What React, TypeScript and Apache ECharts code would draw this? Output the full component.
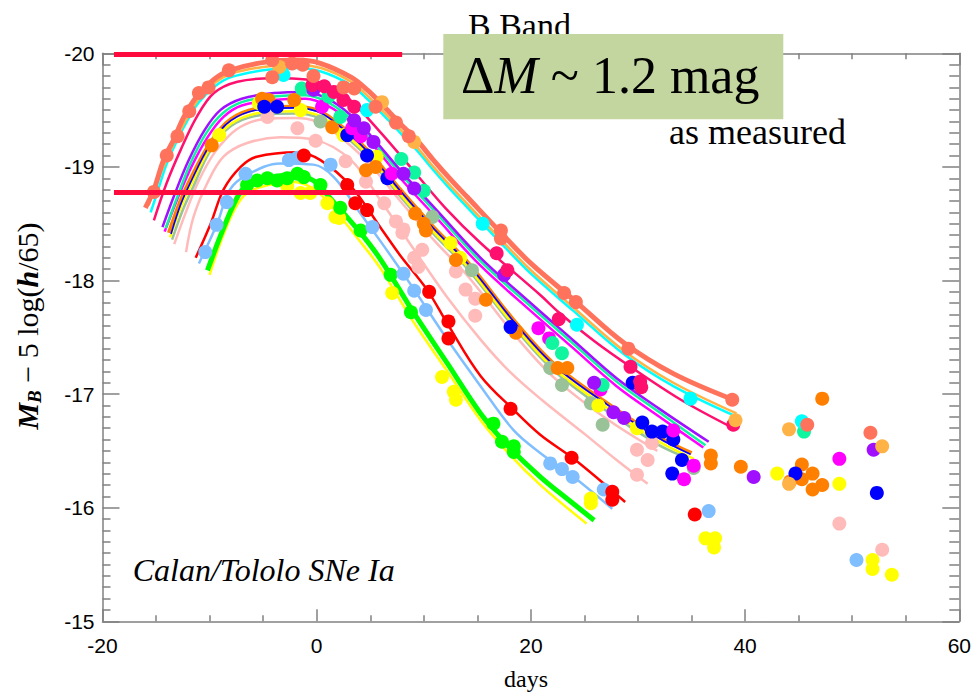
import React, { useEffect, useRef } from "react";
import * as echarts from "echarts";

// ---------- axis ----------
const X_MIN = -20;
const X_MAX = 60;
const X_STEP = 20;
const Y_MIN = -20;
const Y_MAX = -15;
const Y_STEP = 1;

// ---------- reference bars (days, mag) ----------
const barDays = [-18.93, 7.98];
const barBright = -19.99;
const barFaint = -18.775;

// ---------- template fits [day, mag] ----------
const fitCoral = [[-16,-18.64],[-15.2,-18.8],[-14.3,-19.06],[-13.3,-19.25],[-12.4,-19.44],[-11.2,-19.62],[-9.6,-19.77],[-8.1,-19.85],[-4.9,-19.92],[-1.8,-19.94],[0.4,-19.91],[3.2,-19.79],[4.7,-19.68],[6.3,-19.53],[7.8,-19.38],[9.4,-19.23],[10.9,-19.06],[12.5,-18.89],[14.1,-18.73],[17.2,-18.42],[20,-18.15],[24,-17.83],[28.7,-17.45],[33.3,-17.18],[38.9,-16.95]];
const fitLtOrange = [[-15.7,-18.66],[-15,-18.84],[-14,-19.07],[-13,-19.27],[-12,-19.45],[-11,-19.6],[-9.5,-19.74],[-8,-19.82],[-5,-19.88],[-2,-19.9],[0.4,-19.87],[3.2,-19.75],[4.7,-19.63],[6.3,-19.48],[7.8,-19.33],[9.4,-19.17],[10.9,-19.0],[12.5,-18.83],[14.1,-18.67],[17.2,-18.36],[20,-18.09],[24,-17.76],[28.7,-17.38],[33.3,-17.1],[39.2,-16.83]];
const fitCyan = [[-15.5,-18.6],[-14.8,-18.8],[-14,-19.03],[-13,-19.24],[-12,-19.42],[-11,-19.57],[-9.5,-19.71],[-8,-19.79],[-5,-19.85],[-2,-19.87],[0.4,-19.84],[3.2,-19.72],[4.7,-19.6],[6.3,-19.45],[7.8,-19.3],[9.4,-19.14],[10.9,-18.97],[12.5,-18.8],[14.1,-18.64],[17.2,-18.33],[20,-18.06],[24,-17.73],[28.7,-17.35],[33.3,-17.07],[39,-16.81]];
const fitDeepPink = [[-15.2,-18.53],[-14,-18.86],[-12.7,-19.15],[-11.2,-19.44],[-9.6,-19.65],[-7.4,-19.75],[-4,-19.78],[-1,-19.77],[1,-19.72],[3,-19.6],[6,-19.3],[9,-18.97],[12,-18.64],[15.3,-18.33],[20.9,-17.87],[22.6,-17.72],[26,-17.46],[29.3,-17.24],[34,-16.95],[38.9,-16.7]];
const fitPurple = [[-14.4,-18.47],[-13.3,-18.75],[-12,-19.05],[-10.5,-19.32],[-9,-19.5],[-7,-19.6],[-4,-19.65],[-1,-19.66],[1,-19.6],[3,-19.47],[5,-19.28],[8,-18.95],[11.2,-18.62],[15.3,-18.2],[20,-17.8],[24,-17.47],[28,-17.14],[32,-16.87],[36.6,-16.58]];
const fitSpring = [[-14.1,-18.46],[-13,-18.74],[-11.8,-19.03],[-10.3,-19.3],[-8.8,-19.47],[-7,-19.57],[-4,-19.62],[-1,-19.63],[1,-19.57],[3,-19.44],[5,-19.25],[8,-18.92],[11.2,-18.59],[15.3,-18.17],[20,-17.77],[24,-17.44],[28,-17.11],[32,-16.84],[36.3,-16.55]];
const fitMagenta = [[-14.2,-18.43],[-13,-18.72],[-11.7,-19.0],[-10.2,-19.26],[-8.7,-19.44],[-7,-19.54],[-4,-19.59],[-1,-19.6],[1,-19.54],[3,-19.41],[5,-19.22],[8,-18.88],[11.2,-18.55],[15.3,-18.13],[20,-17.73],[24,-17.4],[28,-17.07],[32,-16.8],[36.1,-16.53]];
const fitOrange = [[-13.8,-18.42],[-12.8,-18.68],[-12,-18.85],[-10,-19.2],[-8,-19.42],[-5,-19.52],[-2,-19.53],[0,-19.5],[1.6,-19.41],[4.7,-19.15],[7.8,-18.8],[10.9,-18.47],[14.1,-18.16],[18.4,-17.65],[22.1,-17.27],[27.1,-16.92],[31.8,-16.63],[35,-16.48]];
const fitBlue = [[-13.6,-18.41],[-12.7,-18.67],[-11.9,-18.84],[-10,-19.19],[-8,-19.41],[-5,-19.51],[-2,-19.52],[0,-19.49],[1.6,-19.4],[4.7,-19.14],[7.8,-18.79],[10.9,-18.46],[14.1,-18.15],[18.4,-17.64],[22.1,-17.26],[27.1,-16.91],[31.8,-16.62],[34.9,-16.47]];
const fitYellowHi = [[-13.7,-18.38],[-12.7,-18.64],[-11.9,-18.81],[-10,-19.16],[-8,-19.38],[-5,-19.48],[-2,-19.49],[0,-19.46],[1.6,-19.37],[4.7,-19.11],[7.8,-18.76],[10.9,-18.43],[14.1,-18.12],[18.4,-17.61],[22.1,-17.23],[27.1,-16.88],[31.8,-16.59],[35.2,-16.43]];
const fitSage = [[-13.5,-18.36],[-12.5,-18.62],[-11.5,-18.83],[-10,-19.13],[-8,-19.36],[-5,-19.46],[-2,-19.47],[0,-19.44],[1.6,-19.35],[4.7,-19.09],[7.8,-18.74],[10.9,-18.41],[14.1,-18.1],[18.4,-17.59],[22.1,-17.21],[27.1,-16.85],[31.8,-16.56],[34,-16.46]];
const fitPinkHi = [[-13.3,-18.32],[-12.3,-18.58],[-11,-18.88],[-9.5,-19.13],[-7.5,-19.33],[-5,-19.42],[-2,-19.43],[0,-19.4],[1.6,-19.31],[4.7,-19.05],[7.8,-18.7],[10.9,-18.36],[14.1,-18.04],[18.4,-17.53],[22.1,-17.15],[27.1,-16.78],[31.8,-16.5]];
const fitPinkLo = [[-12.2,-18.25],[-11.5,-18.56],[-10.2,-18.86],[-8.7,-19.09],[-6.5,-19.21],[-3.4,-19.26],[-0.3,-19.24],[3.2,-19.06],[6,-18.7],[9.1,-18.27],[12.2,-17.85],[15.3,-17.48],[18,-17.2],[21,-16.95],[25,-16.65],[28,-16.42],[30.9,-16.21]];
const fitRed = [[-11.3,-18.2],[-9.9,-18.5],[-8.7,-18.8],[-7.1,-19.0],[-5.6,-19.09],[-1.8,-19.13],[0.35,-19.06],[3.2,-18.83],[6.0,-18.46],[7.8,-18.22],[10.3,-17.92],[12.2,-17.62],[15.3,-17.16],[18.4,-16.86],[20.9,-16.64],[24,-16.43],[28.8,-16.05]];
const fitLtBlue = [[-11.0,-18.15],[-9.3,-18.5],[-8.1,-18.8],[-6.5,-18.93],[-3.4,-19.03],[-0.3,-19.02],[1.6,-18.91],[4,-18.6],[6.0,-18.34],[9.1,-17.92],[12.2,-17.48],[15.3,-17.07],[18.4,-16.68],[20.9,-16.48],[24,-16.27],[27.6,-15.99]];
const fitGreen = [[-10.2,-18.09],[-9.0,-18.39],[-7.7,-18.68],[-6.65,-18.83],[-4.9,-18.89],[-2.4,-18.93],[-0.3,-18.88],[1.3,-18.72],[4,-18.43],[6,-18.18],[9.1,-17.71],[12.2,-17.27],[15.3,-16.83],[18,-16.53],[20.9,-16.27],[23.5,-16.07],[25.9,-15.89]];
const fitYellowLo = [[-10.0,-18.05],[-9,-18.33],[-7.7,-18.62],[-6.5,-18.77],[-4.5,-18.84],[-2.4,-18.87],[-0.3,-18.81],[1.5,-18.64],[4,-18.35],[6,-18.1],[9,-17.64],[12.2,-17.2],[15.3,-16.77],[18,-16.47],[21,-16.19],[25.2,-15.86]];

// ---------- observations [day, mag] ----------
const obsCoral = [[-15.2,-18.78],[-14.0,-19.10],[-13.0,-19.27],[-11.9,-19.49],[-11.0,-19.65],[-10.1,-19.70],[-8.2,-19.85],[-4.15,-19.94],[-4.15,-19.79],[-2.3,-19.91],[-1.3,-19.90],[-0.3,-19.80],[2.5,-19.70],[3.5,-19.69],[5.5,-19.53],[7.4,-19.39],[8.6,-19.27],[17.2,-18.44],[17.2,-18.37],[23.1,-17.89],[24.2,-17.81],[29.1,-17.40],[38.8,-16.95],[45.8,-16.73],[51.7,-16.66]];
const obsLtOrange = [[-3.5,-19.88],[6.1,-19.57],[9.1,-19.22],[39.1,-16.77],[44.1,-16.69],[44.1,-16.21],[52.8,-16.54]];
const obsCyan = [[-3.1,-19.81],[4.7,-19.5],[15.5,-18.5],[24.3,-17.61],[34.9,-16.96],[45.3,-16.76]];
const obsDeepPink = [[-0.4,-19.72],[0.7,-19.71],[1.6,-19.66],[2.5,-19.59],[3.5,-19.53],[16.8,-18.24],[17.8,-18.09],[22.6,-17.66],[29.3,-17.24],[30.2,-17.11],[30.3,-17.06],[38.9,-16.73]];
const obsPurple = [[-0.3,-19.68],[3.5,-19.41],[4.4,-19.34],[5.3,-19.22],[8.1,-18.94],[9.1,-18.81],[17.5,-18.05],[25.9,-17.1],[27.7,-16.84],[28.7,-16.79],[40.8,-16.27],[52.0,-16.51]];
const obsSpring = [[-1.4,-19.69],[1.1,-19.62],[2.2,-19.44],[7.9,-19.07],[9.1,-18.95],[10.0,-18.79],[22.0,-17.45],[22.9,-17.36],[26.7,-17.08],[45.5,-16.67]];
const obsMagenta = [[0.5,-19.53],[3.3,-19.34],[4.1,-19.27],[7.0,-18.94],[20.7,-17.58],[21.7,-17.49],[26.5,-17.04],[33.3,-16.68],[35.2,-16.37],[34.3,-16.25],[48.8,-16.43]];
const obsOrange = [[-9.8,-19.19],[-5.1,-19.6],[-4.5,-19.59],[-2.1,-19.59],[1.45,-19.35],[4.6,-18.97],[5.5,-19.0],[9.2,-18.59],[10.0,-18.5],[10.2,-18.44],[13.0,-18.18],[15.8,-17.83],[18.6,-17.54],[22.5,-17.23],[23.4,-17.23],[36.8,-16.46],[36.8,-16.39],[39.6,-16.36],[44.2,-16.23],[45.3,-16.38],[45.3,-16.25],[46.3,-16.30],[46.3,-16.16],[47.2,-16.20],[47.2,-16.96]];
const obsBlue = [[-4.9,-19.53],[-3.7,-19.53],[2.85,-19.28],[4.7,-19.1],[6.6,-18.9],[18.1,-17.59],[29.5,-17.1],[30.4,-16.75],[31.3,-16.67],[32.3,-16.67],[33.3,-16.6],[34.1,-16.42],[33.2,-16.3],[44.7,-16.3],[52.3,-16.13]];
const obsYellowHi = [[-9.1,-19.28],[-5.4,-19.56],[-1.5,-19.5],[2.5,-19.28],[5.6,-19.09],[12.5,-18.33],[13.4,-18.2],[26.3,-16.9],[29.9,-16.7],[43.0,-16.3],[48.8,-16.21]];
const obsSage = [[0.35,-19.4],[10.8,-18.56],[14.5,-18.09],[21.8,-17.23],[22.9,-17.08],[25.6,-16.92],[26.7,-16.73],[35.2,-16.35]];
const obsPink = [[-4.6,-19.44],[-1.8,-19.34],[-0.1,-19.23],[2.7,-19.05],[4.6,-18.87],[6.3,-18.68],[7.4,-18.52],[8.0,-18.42],[8.1,-18.45],[9.1,-18.2],[9.5,-18.12],[9.85,-18.27],[13.0,-18.08],[13.9,-17.92],[14.8,-17.84],[14.8,-17.69],[29.9,-16.51],[30.9,-16.42],[31.3,-16.57],[29.9,-16.29],[48.8,-15.86],[52.8,-15.63]];
const obsRed = [[-1.2,-19.1],[2.85,-18.84],[3.6,-18.68],[4.7,-18.62],[10.5,-17.9],[12.3,-17.64],[12.3,-17.49],[18.1,-16.87],[23.8,-16.44],[27.6,-16.14],[27.6,-16.07],[35.3,-15.94]];
const obsLtBlue = [[-10.4,-18.25],[-9.35,-18.49],[-8.4,-18.69],[-6.65,-18.94],[-2.6,-19.06],[-1.8,-19.08],[1.3,-19.02],[5.2,-18.47],[8.1,-18.06],[9.1,-17.91],[10.2,-17.74],[21.8,-16.39],[22.9,-16.34],[23.9,-16.27],[26.8,-16.16],[36.6,-15.97],[50.4,-15.54]];
const obsGreen = [[-6.5,-18.84],[-5.55,-18.88],[-4.6,-18.9],[-3.7,-18.88],[-2.75,-18.9],[-1.8,-18.94],[-1.2,-18.91],[0.35,-18.84],[2.2,-18.64],[4.1,-18.44],[6.9,-18.05],[8.8,-17.72],[16.5,-16.74],[17.3,-16.58],[18.4,-16.54],[18.4,-16.49]];
const obsYellowLo = [[-2.75,-18.83],[-1.5,-18.77],[-0.6,-18.77],[1.0,-18.68],[1.75,-18.56],[2.1,-18.55],[7.05,-17.89],[11.7,-17.15],[12.8,-17.02],[13.0,-16.95],[25.6,-16.08],[25.6,-16.04],[36.3,-15.73],[37.2,-15.73],[37.1,-15.65],[51.9,-15.54],[51.9,-15.46],[53.7,-15.41]];

// ---------- styling table ----------
const C = {
  coral: "#ff735c",
  ltOrange: "#ffb347",
  cyan: "#00ffff",
  deepPink: "#ff0f6e",
  purple: "#a010ff",
  spring: "#10f5a0",
  magenta: "#ff00ff",
  orange: "#ff8000",
  blue: "#0000ff",
  yellow: "#ffff00",
  sage: "#99c299",
  pink: "#ffbaba",
  red: "#ff0000",
  ltBlue: "#80bfff",
  green: "#00ff00",
  bar: "#ff0a3c",
};

const curves: [number[][], string, number][] = [
  [fitPinkLo, C.pink, 2.5],
  [fitPinkHi, C.pink, 2.5],
  [fitSage, C.sage, 2.5],
  [fitYellowHi, C.yellow, 2.5],
  [fitOrange, C.orange, 4],
  [fitBlue, C.blue, 1.6],
  [fitMagenta, C.magenta, 2.5],
  [fitSpring, C.spring, 2.5],
  [fitPurple, C.purple, 2.5],
  [fitDeepPink, C.deepPink, 2.5],
  [fitCyan, C.cyan, 2.5],
  [fitLtOrange, C.ltOrange, 2.5],
  [fitCoral, C.coral, 5],
  [fitYellowLo, C.yellow, 2.5],
  [fitGreen, C.green, 5],
  [fitLtBlue, C.ltBlue, 2.5],
  [fitRed, C.red, 2.5],
];

const points: [number[][], string][] = [
  [obsPink, C.pink],
  [obsSage, C.sage],
  [obsYellowHi, C.yellow],
  [obsYellowLo, C.yellow],
  [obsGreen, C.green],
  [obsLtBlue, C.ltBlue],
  [obsRed, C.red],
  [obsOrange, C.orange],
  [obsBlue, C.blue],
  [obsMagenta, C.magenta],
  [obsSpring, C.spring],
  [obsPurple, C.purple],
  [obsDeepPink, C.deepPink],
  [obsCyan, C.cyan],
  [obsLtOrange, C.ltOrange],
  [obsCoral, C.coral],
];

const SERIF = "'Liberation Serif', 'Times New Roman', serif";
const SANS = "'Liberation Sans', Arial, Helvetica, sans-serif";
const AXIS_GRAY = "#808080";

export default function App() {
  const ref = useRef<HTMLDivElement>(null);

  useEffect(() => {
    if (!ref.current) return;
    const chart = echarts.init(ref.current, undefined, { renderer: "svg" });

    const axisLine = { show: true, onZero: false, lineStyle: { color: AXIS_GRAY, width: 1.5 } };
    const tickStyle = { color: AXIS_GRAY, width: 1.5 };

    const series: any[] = [];
    curves.forEach(([data, color, width], i) => {
      series.push({
        type: "line",
        name: "fit" + i,
        data,
        smooth: 0.35,
        showSymbol: false,
        symbol: "none",
        lineStyle: { color, width },
        z: 2,
        silent: true,
      });
    });
    points.forEach(([data, color], i) => {
      series.push({
        type: "scatter",
        name: "obs" + i,
        data,
        symbol: "circle",
        symbolSize: 14,
        itemStyle: { color, opacity: 1 },
        z: 3,
        silent: true,
      });
    });
    [barBright, barFaint].forEach((m, i) => {
      series.push({
        type: "line",
        name: "bar" + i,
        data: barDays.map((d) => [d, m]),
        showSymbol: false,
        symbol: "none",
        clip: false,
        lineStyle: { color: C.bar, width: 5 },
        z: 5,
        silent: true,
      });
    });

    chart.setOption({
      animation: false,
      grid: { left: 102.5, top: 53.3, width: 856.8, height: 568, show: false },
      xAxis: [
        {
          type: "value",
          min: X_MIN,
          max: X_MAX,
          interval: X_STEP,
          position: "bottom",
          axisLine,
          axisTick: { show: true, inside: true, length: 12, lineStyle: tickStyle },
          minorTick: { show: true, splitNumber: 4, length: 6, lineStyle: tickStyle },
          splitLine: { show: false },
          minorSplitLine: { show: false },
          axisLabel: { color: "#000", fontSize: 21, fontFamily: SANS, margin: 14 },
        },
        {
          type: "value",
          min: X_MIN,
          max: X_MAX,
          interval: X_STEP,
          position: "top",
          axisLine,
          axisTick: { show: true, inside: true, length: 12, lineStyle: tickStyle },
          minorTick: { show: true, splitNumber: 4, length: 6, lineStyle: tickStyle },
          splitLine: { show: false },
          minorSplitLine: { show: false },
          axisLabel: { show: false },
        },
      ],
      yAxis: [
        {
          type: "value",
          min: Y_MIN,
          max: Y_MAX,
          interval: Y_STEP,
          inverse: true,
          position: "left",
          axisLine,
          axisTick: { show: true, inside: true, length: 17, lineStyle: tickStyle },
          minorTick: { show: true, splitNumber: 10, length: 8, lineStyle: tickStyle },
          splitLine: { show: false },
          minorSplitLine: { show: false },
          axisLabel: { color: "#000", fontSize: 21, fontFamily: SANS, margin: 8 },
        },
        {
          type: "value",
          min: Y_MIN,
          max: Y_MAX,
          interval: Y_STEP,
          inverse: true,
          position: "right",
          axisLine,
          axisTick: { show: true, inside: true, length: 17, lineStyle: tickStyle },
          minorTick: { show: true, splitNumber: 10, length: 10, lineStyle: tickStyle },
          splitLine: { show: false },
          minorSplitLine: { show: false },
          axisLabel: { show: false },
        },
      ],
      series,
      graphic: [
        {
          type: "text",
          left: 468,
          top: 8,
          z: 50,
          style: { text: "B Band", fontFamily: SERIF, fontSize: 34, fill: "#000" },
        },
        {
          type: "rect",
          shape: { x: 443.3, y: 34, width: 340, height: 85.3 },
          style: { fill: "#c4d69f" },
          z: 60,
        },
        {
          type: "text",
          x: 461,
          y: 75,
          z: 70,
          style: {
            text: "{n|Δ}{i|M}{n| ~ 1.2 mag}",
            verticalAlign: "middle",
            align: "left",
            rich: {
              n: { fontFamily: SERIF, fontSize: 52, fill: "#000", color: "#000" },
              i: { fontFamily: SERIF, fontSize: 52, fontStyle: "italic", fill: "#000", color: "#000" },
            },
          },
        },
        {
          type: "text",
          x: 669,
          y: 131.5,
          z: 70,
          style: {
            text: "as measured",
            fontFamily: SERIF,
            fontSize: 36,
            fill: "#000",
            align: "left",
            verticalAlign: "middle",
          },
        },
        {
          type: "text",
          x: 132.7,
          y: 569.5,
          z: 70,
          style: {
            text: "Calan/Tololo SNe Ia",
            fontFamily: SERIF,
            fontSize: 32,
            fontStyle: "italic",
            fill: "#000",
            align: "left",
            verticalAlign: "middle",
          },
        },
        {
          type: "text",
          x: 526,
          y: 679,
          z: 70,
          style: {
            text: "days",
            fontFamily: SERIF,
            fontSize: 24,
            fill: "#000",
            align: "center",
            verticalAlign: "middle",
          },
        },
        {
          type: "text",
          x: 27,
          y: 326,
          rotation: Math.PI / 2,
          z: 70,
          style: {
            text: "{m|M}{s|B}{n| − 5 log(}{h|h}{n|/65)}",
            align: "center",
            verticalAlign: "middle",
            rich: {
              m: { fontFamily: SERIF, fontSize: 30, fontWeight: "bold", fontStyle: "italic", lineHeight: 34, verticalAlign: "middle", fill: "#000", color: "#000" },
              s: { fontFamily: SERIF, fontSize: 19, fontWeight: "bold", fontStyle: "italic", lineHeight: 19, verticalAlign: "bottom", fill: "#000", color: "#000" },
              n: { fontFamily: SERIF, fontSize: 30, lineHeight: 34, verticalAlign: "middle", fill: "#000", color: "#000" },
              h: { fontFamily: SERIF, fontSize: 30, fontWeight: "bold", fontStyle: "italic", lineHeight: 34, verticalAlign: "middle", fill: "#000", color: "#000" },
            },
          },
        },
      ],
    });

    return () => chart.dispose();
  }, []);

  return (
    <div
      ref={ref}
      style={{ position: "absolute", left: 0, top: 0, width: 976, height: 700, background: "#fff" }}
    />
  );
}
